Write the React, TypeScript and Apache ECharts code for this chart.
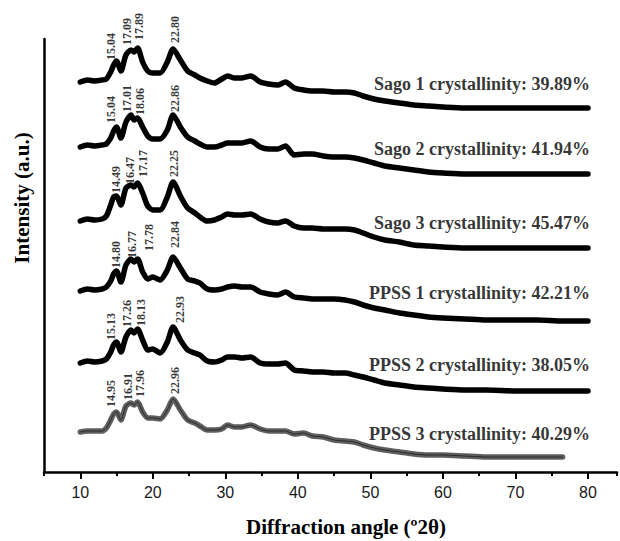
import React, { useEffect, useRef } from "react";
import * as echarts from "echarts";

// Diffraction angles (°2θ) at which intensities were read
const angles = [
  10, 11, 12, 13, 13.6, 14.2, 14.6, 15.0, 15.6, 16.3, 17.0, 17.4, 17.9, 18.6, 19.3, 20.0, 21.0, 22.0,
  22.8, 23.8, 24.8, 25.8, 26.5, 27.5, 28.5, 29.5, 30.3, 31.3, 32.3, 33.5, 34.8, 36.0, 37.2, 38.3,
  39.5, 40.8, 42.0, 43.5, 45.0, 46.5, 47.8, 49.0, 50.5, 52.0, 54.0, 56.0, 58.0, 60.0, 63.0, 66.0,
  70.0, 73.0, 76.5, 80.0,
];

// Stacked (offset) intensities, a.u.
const sago1 = [
  390, 392, 391, 392, 393, 400, 407, 411, 401, 417, 422, 420, 424, 410, 401, 399, 399, 410, 423,
  412, 401, 397, 394, 391, 389, 393, 396, 394, 394, 396, 390, 388, 387, 390, 384, 382, 381, 381,
  380, 380, 379, 376, 373, 371, 369, 367, 366, 365, 364, 364, 364, 364, 364, 364,
];
const sago2 = [
  325, 327, 326, 327, 328, 334, 341, 345, 334, 350, 357, 352, 354, 345, 336, 333, 333, 342, 357,
  345, 335, 331, 328, 325, 325, 327, 329, 329, 329, 331, 325, 323, 323, 326, 317, 318, 318, 316,
  315, 315, 314, 312, 309, 306, 304, 302, 300, 299, 298, 298, 298, 298, 298, 298,
];
const sago3 = [
  251, 253, 252, 253, 256, 267, 275, 276, 267, 284, 287, 285, 289, 279, 266, 262, 262, 275, 290,
  276, 264, 259, 255, 251, 252, 255, 258, 257, 257, 258, 253, 250, 249, 251, 246, 244, 244, 243,
  243, 243, 242, 239, 235, 232, 230, 227, 226, 225, 224, 224, 224, 224, 224, 224,
];
const ppss1 = [
  181, 183, 182, 183, 185, 191, 198, 201, 190, 207, 213, 210, 213, 200, 193, 195, 192, 202, 215,
  204, 193, 191, 189, 183, 182, 183, 185, 186, 185, 185, 180, 178, 177, 180, 175, 174, 173, 173,
  173, 172, 170, 167, 164, 162, 159, 157, 155, 154, 153, 152, 152, 152, 151, 151,
];
const ppss2 = [
  109, 111, 110, 111, 113, 120, 127, 130, 120, 135, 142, 139, 143, 132, 122, 123, 119, 130, 145,
  132, 122, 119, 117, 111, 110, 112, 115, 115, 114, 115, 109, 108, 108, 109, 102, 101, 100, 100,
  99, 99, 97, 95, 92, 89, 87, 85, 84, 83, 82, 82, 81, 81, 81, 81,
];
const ppss3 = [
  40, 41, 41, 41, 44, 52, 58, 60, 52, 66, 69, 67, 70, 60, 54, 54, 53, 62, 73, 62, 52, 49, 46, 42,
  42, 43, 47, 45, 45, 47, 43, 41, 41, 41, 38, 39, 36, 35, 32, 31, 30, 27, 24, 22, 20, 18, 17, 17,
  16, 15, 15, 15, 15, null,
];

const sampleNames = ["Sago 1", "Sago 2", "Sago 3", "PPSS 1", "PPSS 2", "PPSS 3"];
const crystallinity = ["39.89%", "41.94%", "45.47%", "42.21%", "38.05%", "40.29%"];
const sampleValues = [sago1, sago2, sago3, ppss1, ppss2, ppss3];

// Peak annotations: [angle, intensity, label]
const peaksSago1 = [[14.2, 412, "15.04"], [16.4, 427, "17.09"], [18.1, 432, "17.89"], [23.1, 429, "22.80"]];
const peaksSago2 = [[14.25, 349, "15.04"], [16.5, 360, "17.01"], [18.25, 357, "18.06"], [23.1, 360, "22.86"]];
const peaksSago3 = [[14.9, 279, "14.49"], [16.9, 288, "16.47"], [18.7, 295, "17.17"], [22.9, 295, "22.25"]];
const peaksPpss1 = [[14.9, 204, "14.80"], [17.1, 214, "16.77"], [19.5, 221, "17.78"], [23.0, 224, "22.84"]];
const peaksPpss2 = [[14.25, 132, "15.13"], [16.4, 145, "17.26"], [18.35, 146, "18.13"], [23.8, 149, "22.93"]];
const peaksPpss3 = [[14.25, 65, "14.95"], [16.6, 72, "16.91"], [18.25, 75, "17.96"], [23.0, 78, "22.96"]];
const samplePeaks = [peaksSago1, peaksSago2, peaksSago3, peaksPpss1, peaksPpss2, peaksPpss3];

const xMajorTicks = [10, 20, 30, 40, 50, 60, 70, 80];

const SERIF = "'Liberation Serif', 'Times New Roman', serif";
const SANS = "'Liberation Sans', Arial, sans-serif";

export default function App() {
  const ref = useRef<HTMLDivElement>(null);

  useEffect(() => {
    document.body.style.margin = "0";
    if (!ref.current) return;
    const chart = echarts.init(ref.current, undefined, { renderer: "svg" });

    const series: any[] = [];
    sampleValues.forEach((vals, i) => {
      const isGray = i === 5;
      const pts = angles.map((a, k) => [a, vals[k]]).filter((p) => p[1] !== null);
      series.push({
        type: "line",
        name: sampleNames[i],
        xAxisIndex: 0,
        yAxisIndex: 0,
        showSymbol: false,
        smooth: 0.25,
        silent: true,
        lineStyle: {
          width: 5.5,
          color: isGray ? "#5e5e5e" : "#000000",
          cap: "round",
          join: "round",
        },
        data: pts,
        z: 2,
      });
      if (isGray) {
        series.push({
          type: "line",
          xAxisIndex: 0,
          yAxisIndex: 0,
          showSymbol: false,
          smooth: 0.25,
          silent: true,
          lineStyle: { width: 1, color: "#2a2a2a" },
          data: pts,
          z: 3,
        });
      }
      // peak labels
      series.push({
        type: "scatter",
        xAxisIndex: 0,
        yAxisIndex: 0,
        symbolSize: 0,
        silent: true,
        data: samplePeaks[i].map((p) => ({ value: [p[0], p[1]], name: p[2] })),
        label: {
          show: true,
          position: "inside",
          rotate: 90,
          align: "left",
          verticalAlign: "middle",
          formatter: (pp: any) => pp.name,
          fontFamily: SERIF,
          fontWeight: "bold",
          fontSize: 12,
          color: "#000",
        },
        z: 4,
      });
      // crystallinity label
      series.push({
        type: "scatter",
        xAxisIndex: 0,
        yAxisIndex: 0,
        symbolSize: 0,
        silent: true,
        data: [{ value: [80, (vals[0] as number) - 2], name: `${sampleNames[i]} crystallinity: ${crystallinity[i]}` }],
        label: {
          show: true,
          position: "inside",
          align: "right",
          verticalAlign: "middle",
          offset: [2, 0],
          formatter: (pp: any) => pp.name,
          fontFamily: SERIF,
          fontWeight: "bold",
          fontSize: 18,
          color: "#000",
        },
        z: 4,
      });
    });

    chart.setOption({
      animation: false,
      backgroundColor: "#ffffff",
      grid: { left: 44, top: 39, width: 578, height: 433, containLabel: false },
      xAxis: [
        {
          type: "value",
          min: 5,
          max: 84,
          interval: 5,
          axisLine: { show: true, onZero: false, lineStyle: { color: "#000", width: 2.5 } },
          axisTick: {
            show: true,
            inside: false,
            length: 4,
            lineStyle: { color: "#000", width: 2 },
          },
          axisLabel: {
            show: true,
            margin: 12,
            fontFamily: SANS,
            fontSize: 16,
            color: "#1a1a1a",
            formatter: (v: number) => (xMajorTicks.indexOf(v) >= 0 ? String(v) : ""),
          },
          splitLine: { show: false },
        },
        {
          type: "value",
          min: 5,
          max: 84,
          interval: 5,
          position: "bottom",
          axisLine: { show: false },
          axisTick: {
            show: true,
            inside: false,
            customValues: xMajorTicks,
            length: 7,
            lineStyle: { color: "#000", width: 2 },
          },
          axisLabel: { show: false },
          splitLine: { show: false },
        },
      ],
      yAxis: {
        type: "value",
        min: 0,
        max: 433,
        axisLine: { show: true, onZero: false, lineStyle: { color: "#000", width: 2.5 } },
        axisTick: { show: false },
        axisLabel: { show: false },
        splitLine: { show: false },
      },
      graphic: [
        {
          type: "text",
          x: 346,
          y: 527,
          style: {
            text: "Diffraction angle (º2θ)",
            fontFamily: SERIF,
            fontWeight: "bold",
            fontSize: 21,
            fill: "#000",
            textAlign: "center",
            textVerticalAlign: "middle",
          },
        },
        {
          type: "text",
          x: 22,
          y: 198,
          rotation: Math.PI / 2,
          style: {
            text: "Intensity (a.u.)",
            fontFamily: SERIF,
            fontWeight: "bold",
            fontSize: 21,
            fill: "#000",
            textAlign: "center",
            textVerticalAlign: "middle",
          },
        },
      ],
      series,
    });

    return () => {
      chart.dispose();
    };
  }, []);

  return <div ref={ref} style={{ width: 620, height: 541 }} />;
}
